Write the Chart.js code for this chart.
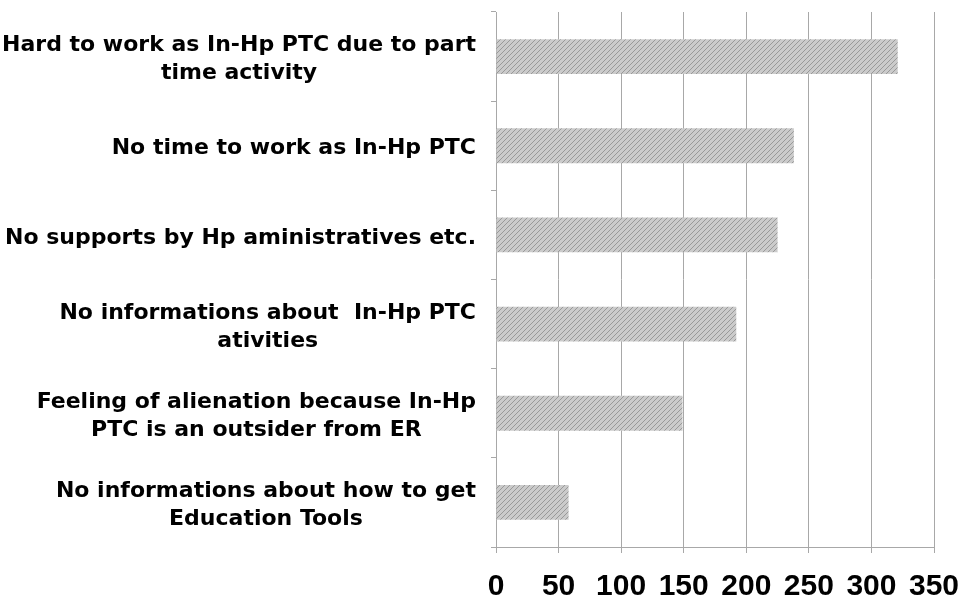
<!DOCTYPE html>
<html>
<head>
<meta charset="utf-8">
<style>
  html, body { margin: 0; padding: 0; background: #ffffff; }
  #wrap { width: 958px; height: 606px; position: relative; }
</style>
<script src="https://cdn.jsdelivr.net/npm/chart.js@4/dist/chart.umd.min.js"></script>
</head>
<body>
<div id="wrap"><canvas id="barrierChart"></canvas></div>
<script>
'use strict';

const categories = [
  ['Hard to work as In-Hp PTC due to part', 'time activity'],
  ['No time to work as In-Hp PTC'],
  ['No supports by Hp aministratives etc.'],
  ['No informations about  In-Hp PTC', 'ativities'],
  ['Feeling of alienation because In-Hp', 'PTC is an outsider from ER'],
  ['No informations about how to get', 'Education Tools'],
];
const responses = [321, 238, 225, 192, 149, 58];
const xTicks = [0, 50, 100, 150, 200, 250, 300, 350];

const LABEL_FONT = 'bold 22px "DejaVu Sans", sans-serif';
const GRID_COLOR = '#a8a8a8';

function makeHatch() {
  const tile = document.createElement('canvas');
  tile.width = 5;
  tile.height = 5;
  const c = tile.getContext('2d');
  c.fillStyle = '#cbcbcb';
  c.fillRect(0, 0, 5, 5);
  c.strokeStyle = '#999999';
  c.lineWidth = 1;
  c.beginPath();
  c.moveTo(0, 5);
  c.lineTo(5, 0);
  c.moveTo(-3, 3);
  c.lineTo(3, -3);
  c.moveTo(3, 8);
  c.lineTo(8, 3);
  c.stroke();
  return c.createPattern(tile, 'repeat');
}

// draws the category labels: block right-aligned, each line centred in its block
const categoryLabels = {
  id: 'categoryLabels',
  afterDraw(chart) {
    const { ctx } = chart;
    const yScale = chart.scales.y;
    const right = 476;
    const lineHeight = 28;
    ctx.save();
    ctx.font = LABEL_FONT;
    ctx.fillStyle = '#000000';
    ctx.textAlign = 'center';
    ctx.textBaseline = 'middle';
    categories.forEach((lines, i) => {
      const blockWidth = Math.max(...lines.map((l) => ctx.measureText(l).width));
      const cx = right - blockWidth / 2;
      const cy = yScale.getPixelForValue(i) + 3;
      const top = cy - ((lines.length - 1) * lineHeight) / 2;
      lines.forEach((line, j) => {
        ctx.fillText(line, cx, top + j * lineHeight);
      });
    });
    ctx.restore();
  },
};

new Chart(document.getElementById('barrierChart'), {
  type: 'bar',
  data: {
    labels: categories,
    datasets: [{
      data: responses,
      backgroundColor: makeHatch(),
      borderWidth: 0,
      barPercentage: 0.39,
      categoryPercentage: 1,
    }],
  },
  options: {
    indexAxis: 'y',
    responsive: true,
    maintainAspectRatio: false,
    animation: false,
    layout: { padding: { top: 12, right: 24, bottom: 0, left: 0 } },
    plugins: {
      legend: { display: false },
      tooltip: { enabled: false },
    },
    scales: {
      x: {
        min: 0,
        max: 350,
        afterBuildTicks: (scale) => {
          scale.ticks = xTicks.map((v) => ({ value: v }));
        },
        grid: {
          color: GRID_COLOR,
          tickLength: 6,
        },
        border: { color: GRID_COLOR },
        ticks: {
          color: '#000000',
          padding: 16,
          maxRotation: 0,
          font: { family: '"Liberation Sans", Arial, sans-serif', size: 30, weight: 'bold' },
        },
        afterFit: (scale) => {
          scale.height = 59;
          scale.paddingLeft = 0;
          scale.paddingRight = 0;
        },
      },
      y: {
        grid: {
          color: GRID_COLOR,
          drawOnChartArea: false,
          tickLength: 5,
        },
        border: { color: GRID_COLOR },
        ticks: { display: false },
        afterFit: (scale) => { scale.width = 496; },
      },
    },
  },
  plugins: [categoryLabels],
});
</script>
</body>
</html>
